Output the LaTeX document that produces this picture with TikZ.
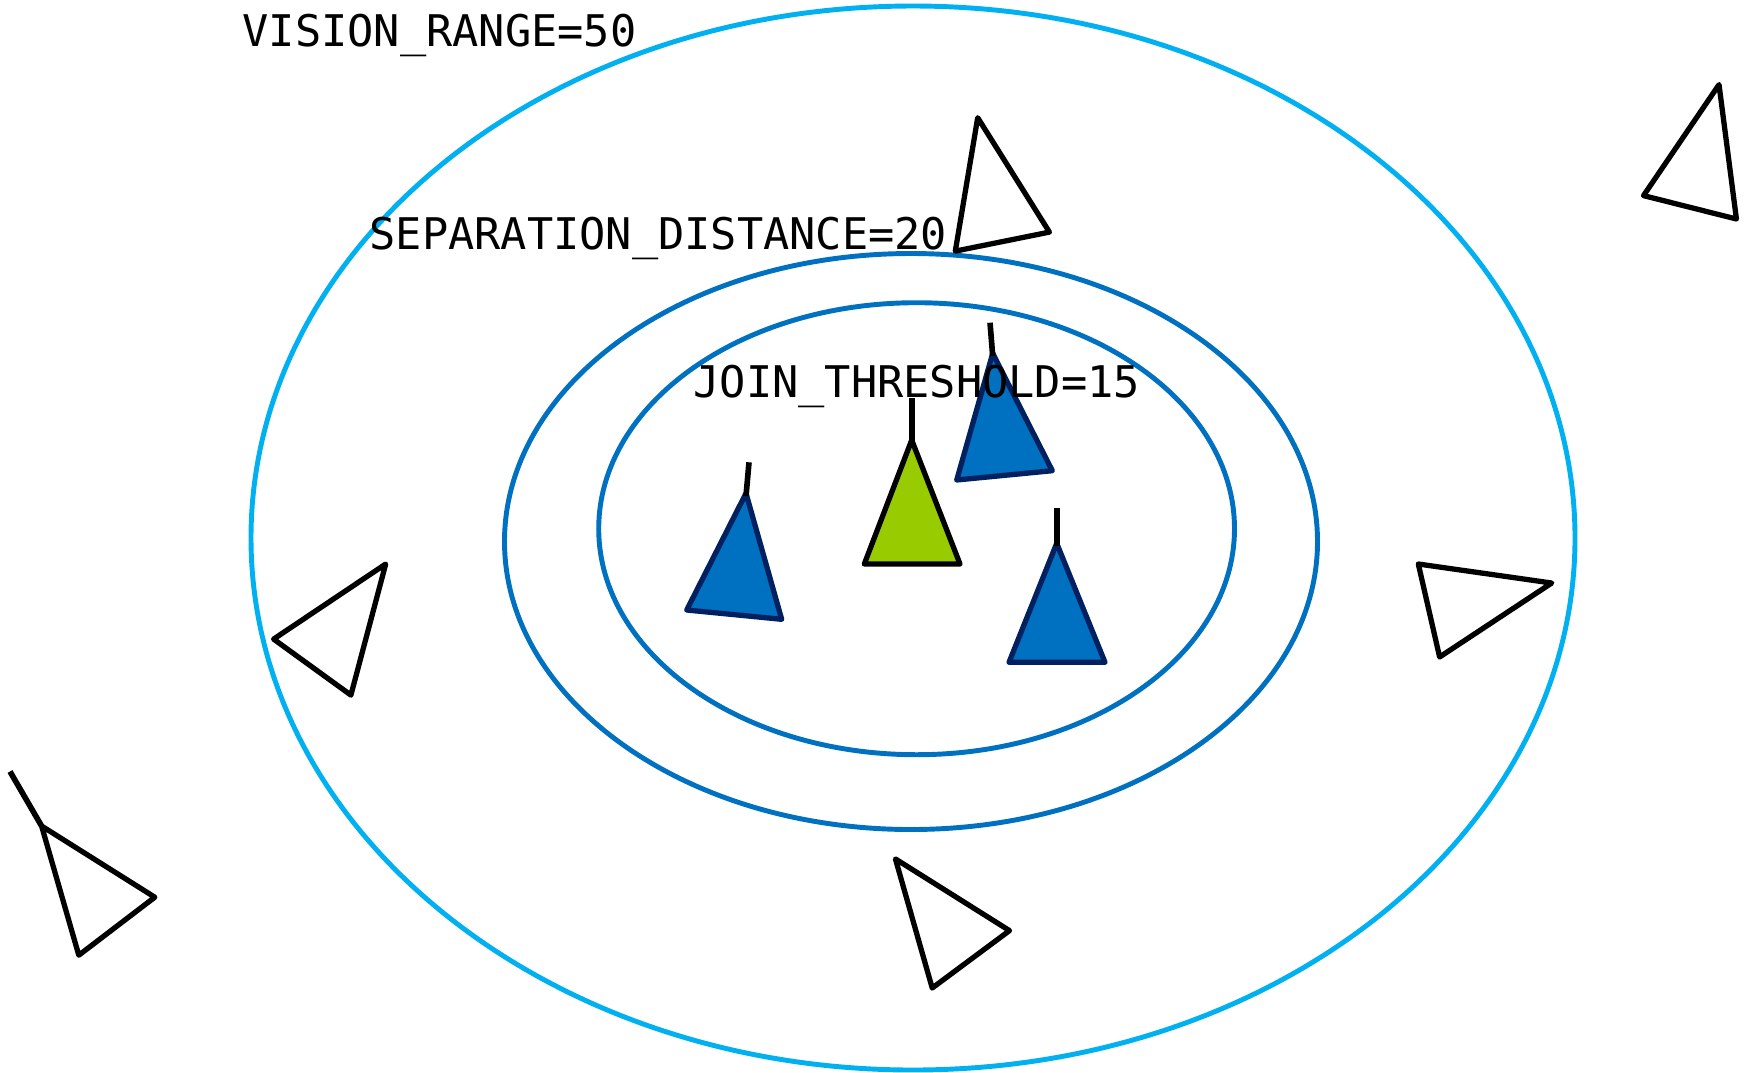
\documentclass[tikz,border=0pt]{standalone}
\usepackage{fontspec}
\setmonofont{DejaVu Sans Mono}
\definecolor{visionblue}{HTML}{00B0F0}
\definecolor{zoneblue}{HTML}{0070C0}
\definecolor{boidblue}{HTML}{0070C0}
\definecolor{boidnavy}{HTML}{002060}
\definecolor{boidgreen}{HTML}{99CC00}
\begin{document}
\begin{tikzpicture}[x=0.01cm,y=-0.01cm,
  zone/.style={line width=1.4pt},
  lbl/.style={anchor=base west,inner sep=0pt,font=\fontsize{12.4pt}{14pt}\selectfont\ttfamily},
  other/.style={draw=black,line width=1.5pt,line join=round,fill=white},
  mate/.style={draw=boidnavy,fill=boidblue,line width=1.5pt,line join=round},
  self/.style={draw=black,fill=boidgreen,line width=1.5pt,line join=round},
  heading/.style={draw=black,line width=1.6pt}]
\useasboundingbox (0,0) rectangle (1758,1072);
% zones
\draw[zone,draw=visionblue] (913,538) ellipse [x radius=662,y radius=532];
\draw[zone,draw=zoneblue] (911,541.5) ellipse [x radius=406.5,y radius=288];
\draw[zone,draw=zoneblue] (916.6,528.7) ellipse [x radius=317.9,y radius=226];
% labels
\node[lbl] (vision) at (242,46.7) {VISION\_RANGE=50};
\node[lbl] (sep) at (369,249) {SEPARATION\_DISTANCE=20};
% other boids
\draw[other] (977.7,117.7) -- (955.3,251.1) -- (1049.4,232.1) -- cycle;
\draw[other] (1719,84.6) -- (1643.5,195.6) -- (1736.4,219) -- cycle;
\draw[other] (385.7,564) -- (273.6,639.1) -- (350.9,695.1) -- cycle;
\draw[other] (1418.3,564) -- (1551.7,583) -- (1439.6,657) -- cycle;
\draw[other] (41.6,826) -- (154.8,897.2) -- (78.8,955.2) -- cycle;
\coordinate (h0) at (10,771.5);
\draw[heading] (41.6,826) -- (h0);
\draw[other] (895.4,858.9) -- (1009.5,930.6) -- (932.2,988) -- cycle;
% flock mates
\draw[mate] (992.7,353.3) -- (956.7,480) -- (1052.3,470.7) -- cycle;
\coordinate (h1) at (990,322.7);
\draw[heading] (992.7,356) -- (h1);
\draw[mate] (746,493.3) -- (686.7,610) -- (781.7,619.3) -- cycle;
\coordinate (h2) at (749,462.3);
\draw[heading] (746,496) -- (h2);
\draw[mate] (1056.7,543.3) -- (1009,662.3) -- (1105,662.3) -- cycle;
\coordinate (h3) at (1056.7,508.3);
\draw[heading] (1056.7,546) -- (h3);
% self
\draw[self] (911.7,440) -- (864.3,564) -- (960,564) -- cycle;
\coordinate (h4) at (911.7,398.3);
\draw[heading] (911.7,442) -- (h4);
% join label on top
\node[lbl] (join) at (693,397) {JOIN\_THRESHOLD=15};
\end{tikzpicture}
\end{document}
